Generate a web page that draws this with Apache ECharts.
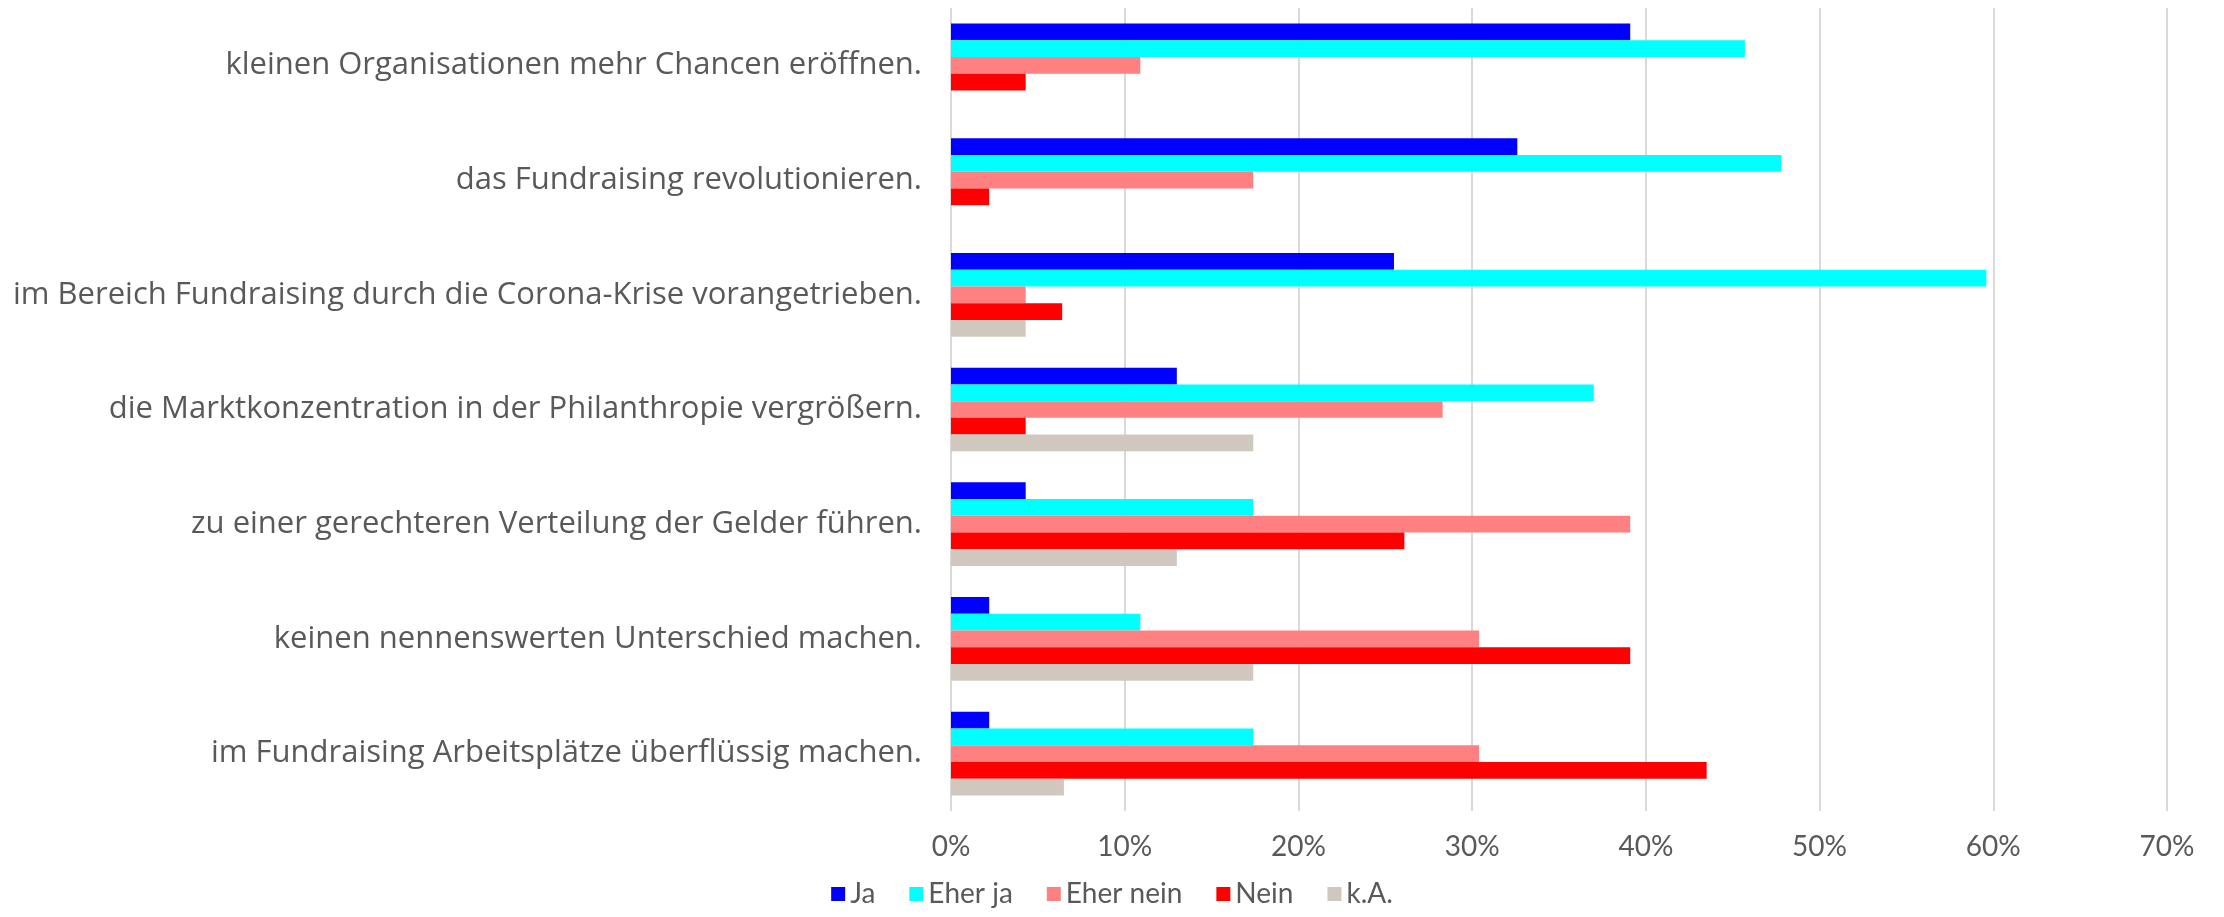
<!DOCTYPE html>
<html>
<head>
<meta charset="utf-8">
<script src="https://cdn.jsdelivr.net/npm/echarts@6/dist/echarts.min.js"></script>
<style>
html,body{margin:0;padding:0;background:#fff;}
#chart{width:2224px;height:917px;}
</style>
</head>
<body>
<div id="chart"></div>
<script>
const categories = [
  "kleinen Organisationen mehr Chancen eröffnen.",
  "das Fundraising revolutionieren.",
  "im Bereich Fundraising durch die Corona-Krise vorangetrieben.",
  "die Marktkonzentration in der Philanthropie vergrößern.",
  "zu einer gerechteren Verteilung der Gelder führen.",
  "keinen nennenswerten Unterschied machen.",
  "im Fundraising Arbeitsplätze überflüssig machen."
];
const seriesNames = ["Ja", "Eher ja", "Eher nein", "Nein", "k.A."];
const ja       = [39.1, 32.6, 25.5, 13.0, 4.3, 2.2, 2.2];
const eherJa   = [45.7, 47.8, 59.6, 37.0, 17.4, 10.9, 17.4];
const eherNein = [10.9, 17.4, 4.3, 28.3, 39.1, 30.4, 30.4];
const nein     = [4.3, 2.2, 6.4, 4.3, 26.1, 39.1, 43.5];
const kA       = [0, 0, 4.3, 17.4, 13.0, 17.4, 6.5];
const tickValues = [0, 10, 20, 30, 40, 50, 60, 70];
const colors = ["#0000FF", "#00FFFF", "#FF8080", "#FF0000", "#D0C8BE"];

const allData = [ja, eherJa, eherNein, nein, kA];
const textColor = "#595959";
const fontFamily = "Lato, 'Open Sans', sans-serif";
const labelFont = "'Open Sans', Lato, sans-serif";

const chart = echarts.init(document.getElementById('chart'));
chart.setOption({
  animation: false,
  backgroundColor: '#ffffff',
  textStyle: { fontFamily: fontFamily },
  grid: { left: 951, right: 57, top: 8, bottom: 106, containLabel: false },
  legend: {
    bottom: 4,
    left: 'center',
    icon: 'rect',
    itemWidth: 14,
    itemHeight: 14,
    itemGap: 34,
    textStyle: { fontSize: 28, color: textColor, fontFamily: fontFamily },
    data: seriesNames
  },
  xAxis: {
    type: 'value',
    min: tickValues[0],
    max: tickValues[tickValues.length - 1],
    interval: 10,
    axisLine: { show: false },
    axisTick: { show: false },
    axisLabel: { formatter: '{value}%', fontSize: 28, color: textColor, margin: 22, fontFamily: fontFamily },
    splitLine: { show: true, lineStyle: { color: '#D9D9D9', width: 2 } }
  },
  yAxis: {
    type: 'category',
    data: categories,
    inverse: true,
    axisLine: { show: false },
    axisTick: { show: false },
    axisLabel: { fontSize: 31, color: textColor, margin: 29, fontFamily: labelFont }
  },
  series: seriesNames.map((n, i) => ({
    name: n,
    type: 'bar',
    data: allData[i],
    itemStyle: { color: colors[i] },
    barGap: '0%',
    barCategoryGap: '27%'
  }))
});
</script>
</body>
</html>
